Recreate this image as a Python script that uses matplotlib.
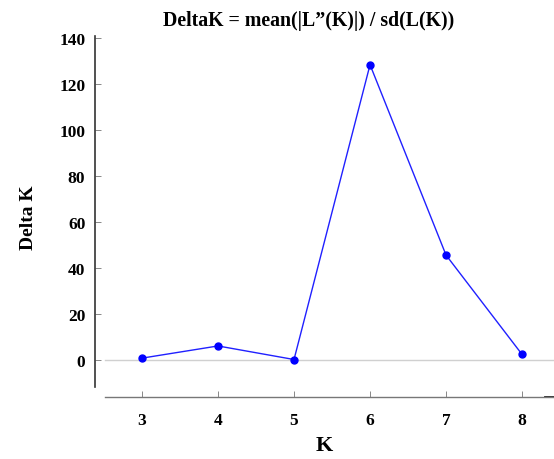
import matplotlib.pyplot as plt

k_values = [3, 4, 5, 6, 7, 8]
delta_k = [0.8, 6.1, 0.2, 128.4, 45.6, 2.4]
y_ticks = [0, 20, 40, 60, 80, 100, 120, 140]

plt.rcParams['font.family'] = 'Liberation Serif'
plt.rcParams['font.weight'] = 'bold'

fig = plt.figure(figsize=(5.54, 4.60), dpi=100)
ax = fig.add_axes([95 / 554, 62 / 460, 459 / 554, 361 / 460])

ax.set_xlim(2.382, 8.42)
ax.set_ylim(-16.1, 140.9)

ax.axhline(0, color='#d0d0d0', lw=1, xmin=10 / 459, xmax=1)
ax.plot(k_values, delta_k, color='#2020ff', lw=1, marker='o', ms=5,
        mfc='#0000ff', mec='#0000ff', clip_on=False)

for s in ['top', 'right']:
    ax.spines[s].set_visible(False)
ax.spines['left'].set_bounds(-11.7, 140.9)
ax.spines['bottom'].set_bounds(2.51, 8.42)
ax.spines['left'].set_color('#333333')
ax.spines['bottom'].set_color('#777777')
ax.spines['left'].set_linewidth(1.2)
ax.spines['bottom'].set_linewidth(1.0)
# short dark stub at the right end of the x axis
ax.plot([8.30, 8.42], [-16.1, -16.1], color='#222222', lw=1.3, clip_on=False)

ax.set_xticks(k_values)
ax.set_yticks(y_ticks)
ax.tick_params(direction='in', length=4, width=0.7, color='#888888',
               labelsize=12.5)
ax.tick_params(axis='x', pad=11)
ax.tick_params(axis='y', pad=7)
for lab in ax.get_xticklabels() + ax.get_yticklabels():
    lab.set_fontweight('bold')

ax.set_xlabel('K', fontsize=16, fontweight='bold', labelpad=5)
ax.set_ylabel('Delta K', fontsize=14, fontweight='bold', labelpad=16)
fig.text(309 / 554, 1 - 21 / 460, 'DeltaK = mean(|L\u201d(K)|) / sd(L(K))',
         ha='center', va='center', fontsize=14.3, fontweight='bold')

fig.savefig('out.png', dpi=100)
